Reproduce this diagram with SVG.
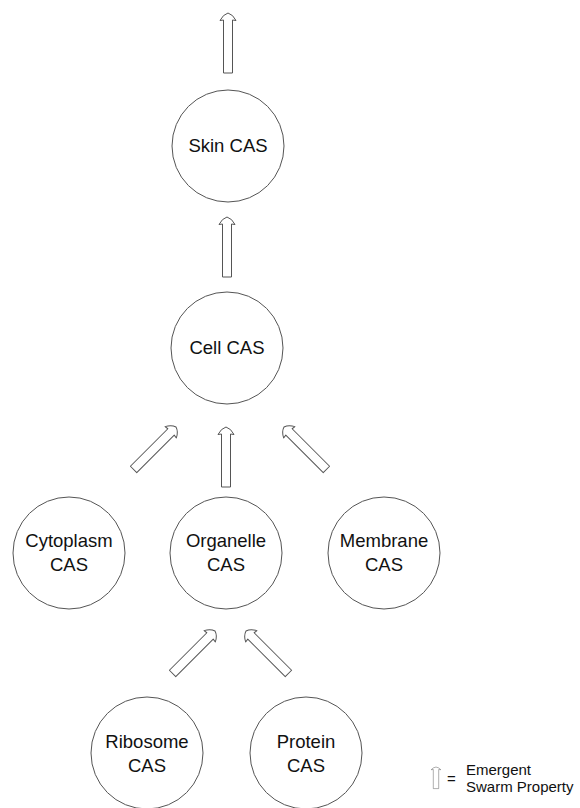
<svg xmlns="http://www.w3.org/2000/svg" xmlns:xlink="http://www.w3.org/1999/xlink" width="580" height="808" viewBox="0 0 580 808">
  <style>
    .node { fill: #ffffff; stroke: #555555; stroke-width: 1; }
    .label { font-family: "Liberation Sans", Arial, sans-serif; font-size: 18.5px; fill: #111111; text-anchor: middle; }
    .legend { font-family: "Liberation Sans", Arial, sans-serif; font-size: 15px; fill: #111111; }
    .arrow { fill: #ffffff; stroke: #555555; stroke-width: 1; stroke-linejoin: round; }
  </style>
  <defs>
    <!-- hollow block arrow pointing up, tip at origin, 60 long -->
    <path id="emerge" class="arrow" d="M -4.5 60 L -4.5 7 L -8 7.5 Q -5 1.5 0 0 Q 5 1.5 8 7.5 L 4.5 7 L 4.5 60 Z"/>
  </defs>

  <g id="connectors">
    <use xlink:href="#emerge" transform="translate(228,13)"/>
    <use xlink:href="#emerge" transform="translate(227,217)"/>
    <use xlink:href="#emerge" transform="translate(226,427)"/>
    <use xlink:href="#emerge" transform="translate(176,427) rotate(45)"/>
    <use xlink:href="#emerge" transform="translate(284,427) rotate(-45)"/>
    <use xlink:href="#emerge" transform="translate(215,631) rotate(45)"/>
    <use xlink:href="#emerge" transform="translate(246,631) rotate(-45)"/>
  </g>

  <g id="skin">
    <circle class="node" cx="228" cy="146" r="56"/>
    <text class="label" x="228" y="152">Skin CAS</text>
  </g>
  <g id="cell">
    <circle class="node" cx="227" cy="348" r="56"/>
    <text class="label" x="227" y="354">Cell CAS</text>
  </g>
  <g id="cytoplasm">
    <circle class="node" cx="69" cy="553" r="56"/>
    <text class="label" x="69" y="547">Cytoplasm</text>
    <text class="label" x="69" y="571">CAS</text>
  </g>
  <g id="organelle">
    <circle class="node" cx="226" cy="553" r="56"/>
    <text class="label" x="226" y="547">Organelle</text>
    <text class="label" x="226" y="571">CAS</text>
  </g>
  <g id="membrane">
    <circle class="node" cx="384" cy="553" r="56"/>
    <text class="label" x="384" y="547">Membrane</text>
    <text class="label" x="384" y="571">CAS</text>
  </g>
  <g id="ribosome">
    <circle class="node" cx="147" cy="753" r="56"/>
    <text class="label" x="147" y="748">Ribosome</text>
    <text class="label" x="147" y="772">CAS</text>
  </g>
  <g id="protein">
    <circle class="node" cx="306" cy="753" r="56"/>
    <text class="label" x="306" y="748">Protein</text>
    <text class="label" x="306" y="772">CAS</text>
  </g>

  <g id="legend">
    <use xlink:href="#emerge" transform="translate(436,767) scale(0.6,0.36)" style="vector-effect: non-scaling-stroke"/>
    <text class="legend" x="447" y="784">=</text>
    <text class="legend" x="466" y="775">Emergent</text>
    <text class="legend" x="466" y="792">Swarm Property</text>
  </g>
</svg>
